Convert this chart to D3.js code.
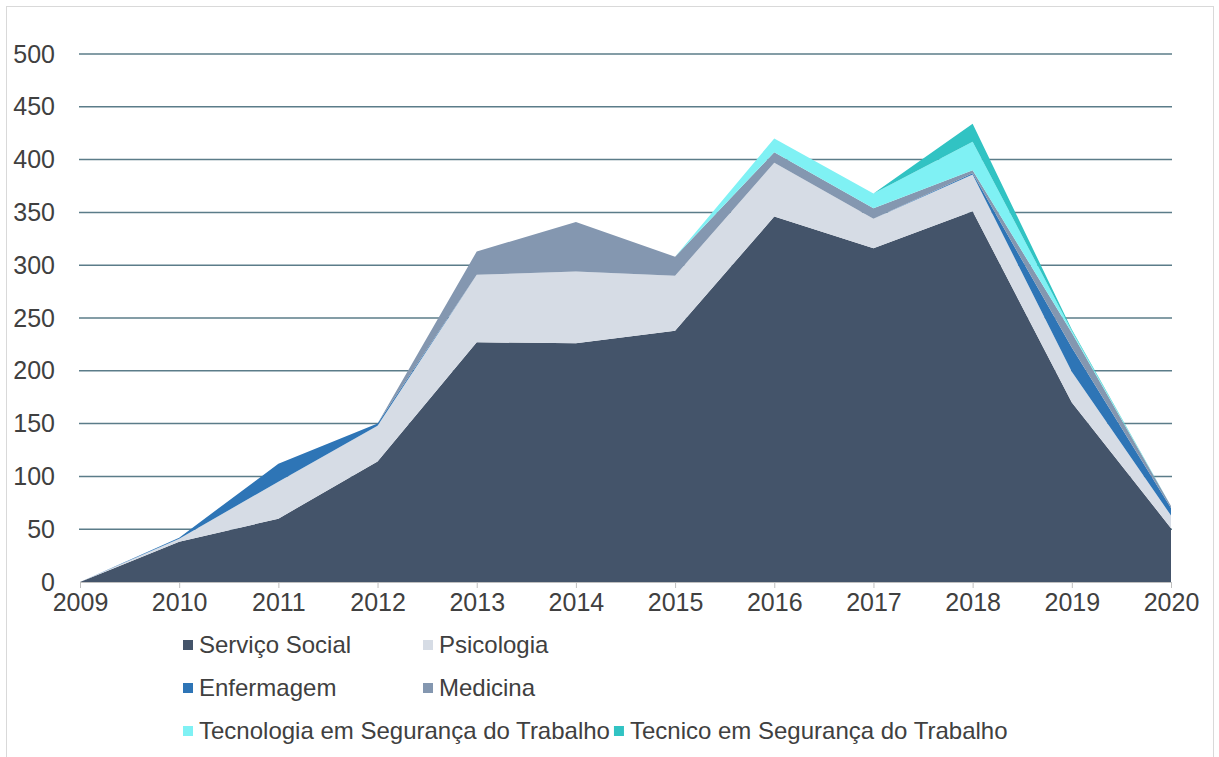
<!DOCTYPE html>
<html>
<head>
<meta charset="utf-8">
<script src="https://cdn.jsdelivr.net/npm/d3@7"></script>
<style>
  body { margin: 0; background: #fff; }
  text { font-family: "Liberation Sans", Arial, sans-serif; fill: #404040; }
</style>
</head>
<body>
<div id="chart"></div>
<script>
var years = [2009, 2010, 2011, 2012, 2013, 2014, 2015, 2016, 2017, 2018, 2019, 2020];
var yTicks = [0, 50, 100, 150, 200, 250, 300, 350, 400, 450, 500];

var servicoSocial = [0, 38, 60, 114, 227, 226, 238, 346, 316, 351, 170, 51];
var psicologia = [0, 3, 35, 34, 64, 68, 52, 51, 28, 35, 29, 12];
var enfermagem = [0, 1, 17, 2, 0, 0, 0, 0, 0, 1, 23, 7];
var medicina = [0, 0, 0, 0, 22, 47, 18, 10, 10, 3, 14, 2];
var tecnologiaSeg = [0, 0, 0, 0, 0, 0, 0, 13, 14, 27, 2, 0];
var tecnicoSeg = [0, 0, 0, 0, 0, 0, 0, 0, 0, 17, 1, 0];

var seriesNames = ["Serviço Social", "Psicologia", "Enfermagem", "Medicina",
  "Tecnologia em Segurança do Trabalho", "Tecnico em Segurança do Trabalho"];
var seriesValues = [servicoSocial, psicologia, enfermagem, medicina, tecnologiaSeg, tecnicoSeg];
var seriesColors = ["#44546a", "#d6dce5", "#2e75b6", "#8497b0", "#7ff1f4", "#31c3c3"];

var width = 1219, height = 757;

var svg = d3.select("#chart").append("svg")
  .attr("width", width)
  .attr("height", height);

// chart border
svg.append("rect")
  .attr("x", 6.5).attr("y", 6.5)
  .attr("width", 1207).attr("height", 760)
  .attr("fill", "#fff")
  .attr("stroke", "#d9d9d9");

var x = d3.scaleLinear().domain([2009, 2020]).range([80, 1171]);
var y = d3.scaleLinear().domain([0, 500]).range([582, 54]);

// table for the stack
var table = years.map(function (yr, i) {
  var row = { year: yr };
  seriesNames.forEach(function (n, j) { row[n] = seriesValues[j][i]; });
  return row;
});
var stacked = d3.stack().keys(seriesNames)(table);

// gridlines
svg.append("g").selectAll("line")
  .data(yTicks.filter(function (d) { return d > 0; }))
  .enter().append("line")
  .attr("x1", 79).attr("x2", 1172)
  .attr("y1", function (d) { return y(d); })
  .attr("y2", function (d) { return y(d); })
  .attr("stroke", "#5b7c89")
  .attr("stroke-width", 1.5);

// areas
var area = d3.area()
  .x(function (d) { return x(d.data.year); })
  .y0(function (d) { return y(d[0]); })
  .y1(function (d) { return y(d[1]); });

svg.append("g").selectAll("path")
  .data(stacked)
  .enter().append("path")
  .attr("d", area)
  .attr("fill", function (d, i) { return seriesColors[i]; });

// x axis
var xAxis = d3.axisBottom(x)
  .tickValues(years)
  .tickFormat(d3.format("d"))
  .tickSize(6)
  .tickPadding(5);
var gx = svg.append("g")
  .attr("transform", "translate(0," + y(0) + ")")
  .call(xAxis);
gx.select(".domain").attr("stroke", "#bfbfbf");
gx.selectAll(".tick line").attr("stroke", "#bfbfbf");
gx.selectAll("text").style("font-size", "25px").attr("fill", "#404040");

// y axis labels
var yAxis = d3.axisLeft(y)
  .tickValues(yTicks)
  .tickSize(0)
  .tickPadding(24);
var gy = svg.append("g")
  .attr("transform", "translate(79,0)")
  .call(yAxis);
gy.select(".domain").remove();
gy.selectAll("text").style("font-size", "25px").attr("fill", "#404040");

// legend
var legendRows = [645, 688, 731];
var legend = svg.append("g");
var colX = [183, 423];
seriesNames.forEach(function (n, i) {
  var row = Math.floor(i / 2), col = i % 2;
  var lx = colX[col];
  if (col === 1) {
    var prev = legend.select(".lt" + (i - 1)).node();
    var end = colX[0] + 16 + prev.getComputedTextLength();
    lx = Math.max(lx, end + 4);
  }
  legend.append("rect")
    .attr("x", lx).attr("y", legendRows[row] - 5)
    .attr("width", 10).attr("height", 10)
    .attr("fill", seriesColors[i]);
  legend.append("text")
    .attr("class", "lt" + i)
    .attr("x", lx + 16).attr("y", legendRows[row])
    .attr("dy", "0.35em")
    .style("font-size", "24px")
    .text(n);
});
</script>
</body>
</html>
